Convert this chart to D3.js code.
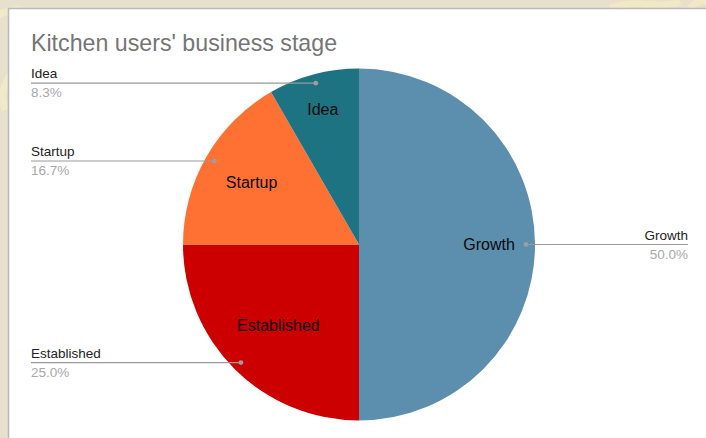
<!DOCTYPE html>
<html>
<head>
<meta charset="utf-8">
<script src="https://cdn.jsdelivr.net/npm/d3@7"></script>
<style>
  html, body { margin: 0; padding: 0; background: #e7e0cc; }
  svg { display: block; font-family: "Liberation Sans", Arial, sans-serif; }
</style>
</head>
<body>
<svg id="chart" width="706" height="438"></svg>
<script>
// Business stage of kitchen users (counts of respondents)
const categories = ["Growth", "Established", "Startup", "Idea"];
const counts = [6, 3, 2, 1];
const colors = ["#5b8fad", "#cc0000", "#ff7033", "#1d7382"];
const title = "Kitchen users' business stage";

const W = 706, H = 438;
const svg = d3.select("#chart");

// faint decorative swirls on the backdrop
const deco = svg.append("g").attr("fill", "none").attr("stroke", "#f3ecc4").attr("stroke-width", 7).attr("opacity", 0.8);
deco.append("path").attr("d", "M-10,20 C20,0 40,10 30,40 C20,70 -5,80 5,110");
deco.append("path").attr("d", "M610,8 C640,-2 660,10 680,2");
deco.append("path").attr("d", "M690,8 C698,0 704,-2 712,4");

// white card
svg.append("rect")
  .attr("x", 8.5).attr("y", 8.5)
  .attr("width", W + 20).attr("height", H + 20)
  .attr("fill", "#ffffff")
  .attr("stroke", "#b9b9b9").attr("stroke-width", 1.5);

svg.append("text")
  .attr("x", 31).attr("y", 51)
  .attr("font-size", 23.2).attr("fill", "#757575")
  .text(title);

const cx = 359, cy = 244.5, R = 176;
const data = categories.map((c, i) => ({ name: c, value: counts[i], color: colors[i] }));
const total = d3.sum(counts);

const pie = d3.pie().value(d => d.value).sort(null);
const arcs = pie(data);
const arc = d3.arc().innerRadius(0).outerRadius(R);

const g = svg.append("g").attr("transform", `translate(${cx},${cy})`);

g.selectAll("path.slice")
  .data(arcs)
  .join("path")
  .attr("class", "slice")
  .attr("d", arc)
  .attr("fill", d => d.data.color);

// in-slice labels; narrow slices push their label further out
const labelRadius = { Growth: 130, Established: 114, Startup: 124, Idea: 140 };
g.selectAll("text.inner")
  .data(arcs)
  .join("text")
  .attr("class", "inner")
  .attr("transform", d => {
    const a = (d.startAngle + d.endAngle) / 2;
    const r = labelRadius[d.data.name];
    return `translate(${Math.sin(a) * r},${-Math.cos(a) * r})`;
  })
  .attr("text-anchor", "middle")
  .attr("dy", "0.35em")
  .attr("font-size", 16)
  .attr("fill", "#0a0a0a")
  .text(d => d.data.name);

// leader lines with outside legend labels
const dotR = 167;
const fmt = d3.format(".1f");
const leftX = 31 - cx, rightX = 688 - cx;
arcs.forEach(d => {
  const a = (d.startAngle + d.endAngle) / 2;
  const px = Math.sin(a) * dotR, py = -Math.cos(a) * dotR;
  const right = px > 0;
  const endX = right ? rightX : leftX;
  g.append("line")
    .attr("x1", px).attr("y1", py).attr("x2", endX).attr("y2", py)
    .attr("stroke", "#9a9a9a").attr("stroke-width", 1.2);
  g.append("circle").attr("cx", px).attr("cy", py).attr("r", 2.4).attr("fill", "#9e9e9e");
  const anchor = right ? "end" : "start";
  g.append("text")
    .attr("x", endX).attr("y", py - 5)
    .attr("text-anchor", anchor).attr("font-size", 13.5).attr("fill", "#222")
    .text(d.data.name);
  g.append("text")
    .attr("x", endX).attr("y", py + 14)
    .attr("text-anchor", anchor).attr("font-size", 13.5).attr("fill", "#a8a8a8")
    .text(fmt(d.data.value / total * 100) + "%");
});
</script>
</body>
</html>
